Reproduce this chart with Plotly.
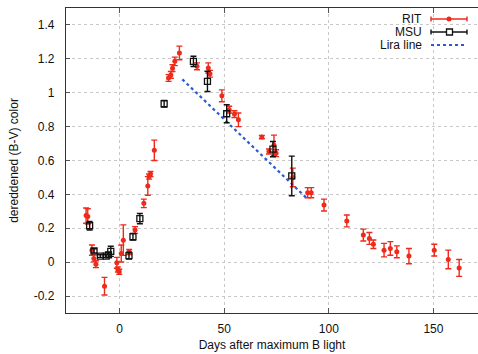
import plotly.graph_objects as go

# ---- data ----
rit_x = [-16.0, -15.2, -13.2, -12.3, -11.3, -7.2, -1.3, -0.8, -0.15, 0.8, 1.8, 4.6, 7.4,
         11.6, 13.5, 14.1, 14.8, 16.6, 23.4, 24.5, 25.3, 26.4, 28.6, 37.0, 42.4, 43.2,
         48.9, 52.4, 54.9, 56.8, 68.0, 71.4, 73.8, 74.8, 82.8, 89.9, 91.6, 97.7, 108.6,
         116.5, 119.4, 121.3, 126.4, 129.4, 132.5, 138.3, 150.4, 157.1, 162.3]
rit_y = [0.275, 0.27, 0.071, 0.022, -0.012, -0.142, -0.004, -0.043, -0.057, 0.051, 0.13, 0.06, 0.19,
         0.347, 0.45, 0.505, 0.52, 0.66, 1.087, 1.105, 1.145, 1.185, 1.235, 1.156, 1.146, 1.112,
         0.982, 0.9, 0.874, 0.84, 0.738, 0.653, 0.69, 0.643, 0.5, 0.41, 0.41, 0.337, 0.243,
         0.16, 0.14, 0.106, 0.071, 0.081, 0.061, 0.036, 0.071, 0.016, -0.034]
rit_err = [0.045, 0.045, 0.03, 0.02, 0.02, 0.052, 0.032, 0.015, 0.015, 0.05, 0.09, 0.015, 0.02,
           0.025, 0.055, 0.015, 0.015, 0.06, 0.02, 0.02, 0.02, 0.025, 0.04, 0.02, 0.03, 0.02,
           0.035, 0.02, 0.02, 0.04, 0.01, 0.015, 0.06, 0.02, 0.055, 0.03, 0.03, 0.035, 0.035,
           0.035, 0.035, 0.025, 0.04, 0.04, 0.035, 0.045, 0.035, 0.055, 0.05]

msu_x = [-14.3, -12.2, -9.2, -6.4, -5.3, -4.2, 4.5, 6.4, 9.7, 21.3, 35.3, 42.0, 51.2, 73.3, 82.3]
msu_y = [0.215, 0.067, 0.036, 0.036, 0.043, 0.064, 0.039, 0.15, 0.257, 0.935, 1.185, 1.067, 0.876, 0.667, 0.509]
msu_err = [0.025, 0.012, 0.008, 0.008, 0.015, 0.03, 0.02, 0.02, 0.03, 0.02, 0.03, 0.06, 0.053, 0.045, 0.117]

lira_x = [30, 90]
lira_y = [1.079, 0.371]

x_tickvals = [0, 50, 100, 150]
x_ticktext = ["0", "50", "100", "150"]
y_tickvals = [-0.2, 0, 0.2, 0.4, 0.6, 0.8, 1.0, 1.2, 1.4]
y_ticktext = ["-0.2", "0", "0.2", "0.4", "0.6", "0.8", "1", "1.2", "1.4"]

legend_names = ["RIT", "MSU", "Lira line"]

RED = "#ee2a1a"
BLACK = "#111111"
BLUE = "#2a5bd7"
FONT = "Liberation Sans, Arial, sans-serif"

fig = go.Figure()

fig.add_trace(go.Scatter(
    x=lira_x, y=lira_y, mode="lines", name=legend_names[2],
    line=dict(color=BLUE, width=2.2, dash="dot"), showlegend=False))

fig.add_trace(go.Scatter(
    x=rit_x, y=rit_y, mode="markers", name=legend_names[0],
    marker=dict(color=RED, size=5, symbol="circle"),
    error_y=dict(type="data", array=rit_err, color=RED, thickness=1.4, width=3),
    showlegend=False))

fig.add_trace(go.Scatter(
    x=msu_x, y=msu_y, mode="markers", name=legend_names[1],
    marker=dict(color=BLACK, size=6, symbol="square-open",
                line=dict(color=BLACK, width=1.3)),
    error_y=dict(type="data", array=msu_err, color=BLACK, thickness=1.4, width=3),
    showlegend=False))

# ---- custom gnuplot-style legend (paper coords) ----
L, B, W, H = 66, 41, 412, 305
def px(xp):
    return (xp - L) / W
def py(yp):
    return (354 - B - yp) / H

shapes = []
annotations = []
rows = [(19, RED, "dot"), (32, BLACK, "square"), (45, BLUE, "dotline")]
for (yy, col, kind), name in zip(rows, legend_names):
    annotations.append(dict(x=px(424), y=py(yy), xref="paper", yref="paper", text=name,
                            showarrow=False, xanchor="right", yanchor="middle",
                            font=dict(family=FONT, size=12, color="#111")))
    if kind == "dotline":
        shapes.append(dict(type="line", xref="paper", yref="paper", x0=px(431), x1=px(467),
                           y0=py(yy), y1=py(yy), line=dict(color=BLUE, width=2, dash="dot")))
    else:
        shapes.append(dict(type="line", xref="paper", yref="paper", x0=px(431), x1=px(467),
                           y0=py(yy), y1=py(yy), line=dict(color=col, width=1.4)))
        for xe in (431, 467):
            shapes.append(dict(type="line", xref="paper", yref="paper", x0=px(xe), x1=px(xe),
                               y0=py(yy - 2.5), y1=py(yy + 2.5), line=dict(color=col, width=1.4)))
        if kind == "dot":
            shapes.append(dict(type="circle", xref="paper", yref="paper",
                               x0=px(446.5), x1=px(451.5), y0=py(yy + 2.5), y1=py(yy - 2.5),
                               fillcolor=RED, line=dict(color=RED, width=0)))
        else:
            shapes.append(dict(type="rect", xref="paper", yref="paper",
                               x0=px(446.5), x1=px(452.5), y0=py(yy + 3), y1=py(yy - 3),
                               fillcolor="white", line=dict(color=BLACK, width=1.3)))

fig.update_layout(
    width=478, height=354,
    margin=dict(l=L, r=0, t=8, b=B),
    paper_bgcolor="white", plot_bgcolor="white",
    font=dict(family=FONT, size=12, color="#111"),
    shapes=shapes, annotations=annotations,
    xaxis=dict(range=[-25.6, 171.3], tickvals=x_tickvals, ticktext=x_ticktext,
               showline=True, linecolor="#333", linewidth=1.4, mirror="ticks",
               ticks="inside", ticklen=5, tickcolor="#555", tickwidth=1,
               showgrid=True, gridcolor="#c8c8c8", griddash="dot", gridwidth=1,
               zeroline=False, ticklabelstandoff=4, automargin=False,
               title=dict(text="Days after maximum B light", standoff=6,
                          font=dict(family=FONT, size=12))),
    yaxis=dict(range=[-0.3, 1.5], tickvals=y_tickvals, ticktext=y_ticktext,
               showline=True, linecolor="#333", linewidth=1.4, mirror=False,
               ticks="inside", ticklen=4, tickcolor="#555", tickwidth=1,
               showgrid=True, gridcolor="#c8c8c8", griddash="dot", gridwidth=1,
               zeroline=False, ticklabelstandoff=8, automargin=False,
               title=dict(text="dereddened (B-V) color", standoff=12,
                          font=dict(family=FONT, size=12))),
)

fig.write_html("out.html", config={"displayModeBar": False},
               post_script="document.body.style.margin='0px';document.body.style.overflow='hidden';")
